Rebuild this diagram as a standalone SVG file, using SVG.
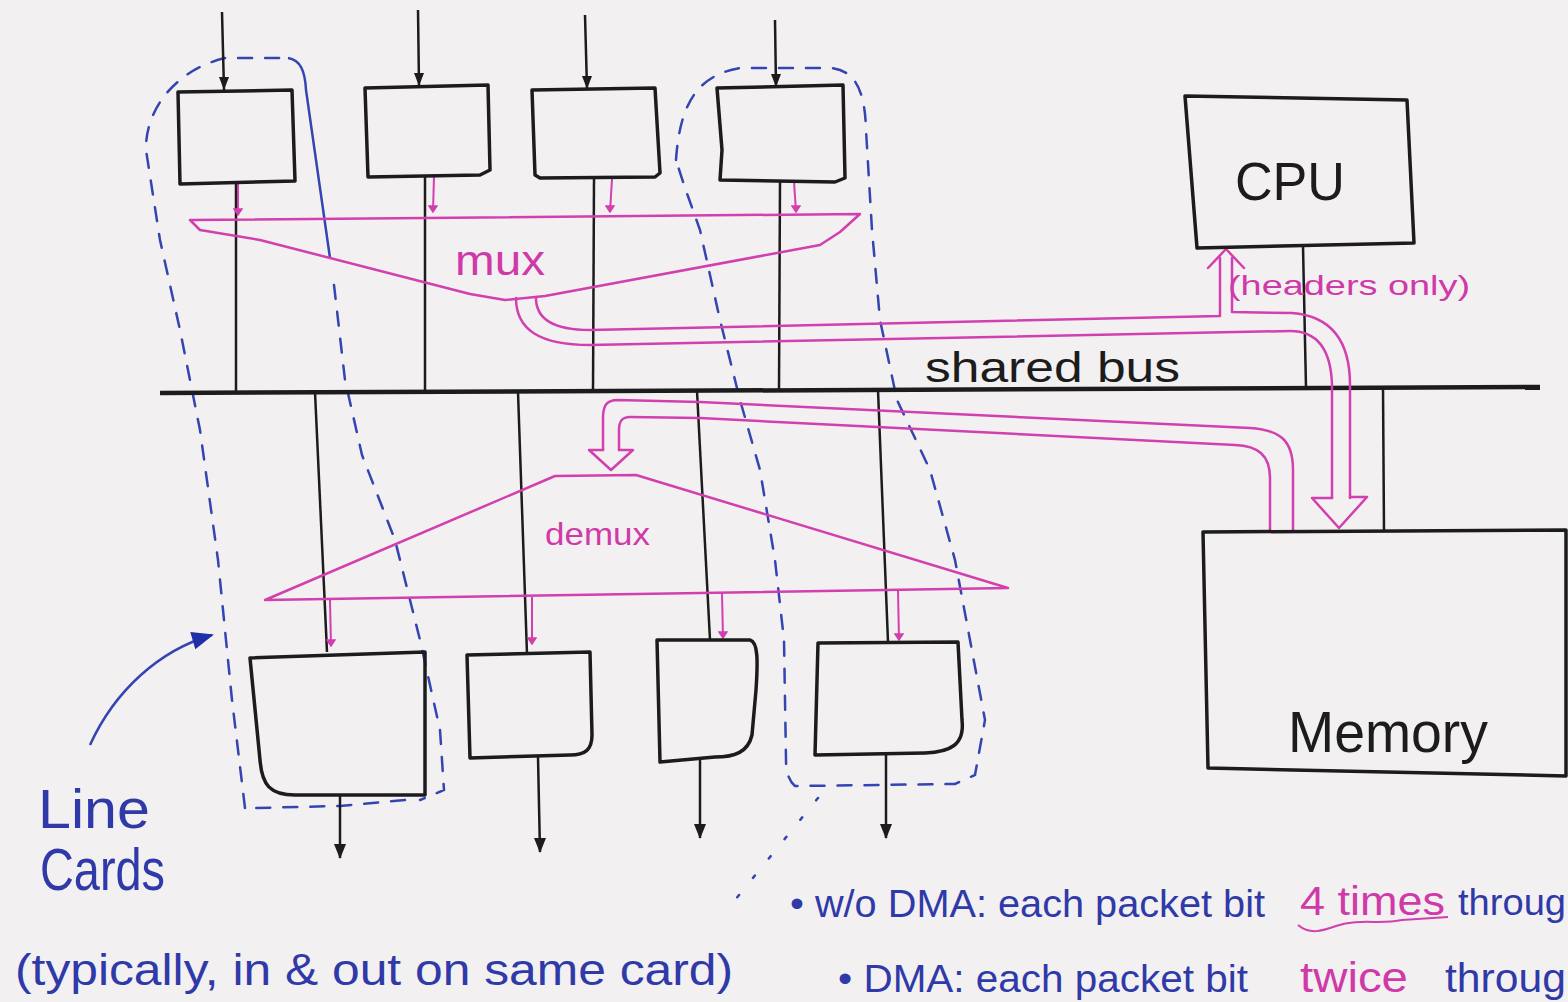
<svg xmlns="http://www.w3.org/2000/svg" width="1568" height="1002" viewBox="0 0 1568 1002">
<style>
.bg{fill:#f3f0f2}
.box{fill:none;stroke:#1c1c1c;stroke-width:3.5;stroke-linejoin:round}
.wire{fill:none;stroke:#1c1c1c;stroke-width:2.5}
.bus{fill:none;stroke:#1c1c1c;stroke-width:4.5}
.pk{fill:none;stroke:#d23fae;stroke-width:2.5;stroke-linejoin:round;stroke-linecap:round}
.pkt{fill:none;stroke:#d23fae;stroke-width:2;stroke-linejoin:round}
.dash{fill:none;stroke:#3444b0;stroke-width:2.5;stroke-dasharray:14 13;stroke-linecap:round}
.bl{fill:none;stroke:#3444b0;stroke-width:2.5}
.dot{fill:none;stroke:#3444b0;stroke-width:2.5;stroke-dasharray:3 22;stroke-linecap:round}
.t{font-family:"Liberation Sans",Arial,sans-serif}
.tk{fill:#1c1c1c}
.tp{fill:#cf3aa8}
.tb{fill:#2f3aa8}
</style>
<defs>
<marker id="ahB" markerUnits="userSpaceOnUse" markerWidth="14" markerHeight="16" refX="7" refY="15" viewBox="0 0 14 16" orient="0">
<path d="M2,2 L12,2 L7,15 Z" fill="#1c1c1c"/>
</marker>
<marker id="ahP" markerUnits="userSpaceOnUse" markerWidth="10" markerHeight="10" refX="5" refY="9" viewBox="0 0 10 10" orient="0">
<path d="M1,3 L5,9 L9,3 Z" fill="#d23fae" stroke="#d23fae" stroke-width="1.5"/>
</marker>
<marker id="ahD" markerUnits="userSpaceOnUse" markerWidth="18" markerHeight="18" refX="9" refY="16" viewBox="0 0 18 18" orient="0">
<path d="M3,2 L15,2 L9,17 Z" fill="#1c1c1c"/>
</marker>
<marker id="ahBlue" markerUnits="userSpaceOnUse" markerWidth="26" markerHeight="26" refX="22" refY="13" viewBox="0 0 26 26" orient="auto">
<path d="M2,4 L24,13 L2,22 Z" fill="#1f2fa8"/>
</marker>
</defs>
<rect class="bg" x="0" y="0" width="1568" height="1002"/>

<g id="annotations">
<path class="dash" d="M245,808 L232,700 L218,560 L200,430 L180,330 L160,240 L146,150 C145,110 175,70 225,58 L288,58"/>
<path class="bl" d="M288,58 C300,60 305,70 306,90 L330,258"/>
<path class="dash" d="M334,285 L345,380 L362,455 L395,540 L420,640 L440,730 L444,790 L420,800"/>
<path class="dash" d="M405,800 L340,806 L255,808"/>
<path class="dash" d="M676,160 C680,100 700,75 740,68 L830,68 C855,70 865,90 866,130 L872,230 L880,320 L897,400 L930,470 L955,560 L970,640 L985,720 L975,775 L955,784 L795,786 C788,780 786,770 786,760 L784,640 L775,560 L760,470 L740,400 L720,320 L700,230 L684,185 Z"/>
<path class="dot" d="M818,798 L735,900"/>
<path class="bl" d="M90,745 C115,690 160,650 212,635" marker-end="url(#ahBlue)" stroke="#1f2fa8" stroke-width="3"/>
</g>

<g id="connectors">
<line class="wire" x1="222" y1="12" x2="224" y2="90" marker-end="url(#ahB)"/>
<line class="wire" x1="418" y1="10" x2="419" y2="86" marker-end="url(#ahB)"/>
<line class="wire" x1="585" y1="15" x2="587" y2="89" marker-end="url(#ahB)"/>
<line class="wire" x1="775" y1="20" x2="776" y2="87" marker-end="url(#ahB)"/>
<line class="wire" x1="236" y1="182" x2="236" y2="391"/>
<line class="wire" x1="425" y1="176" x2="425" y2="390"/>
<line class="wire" x1="594" y1="178" x2="593" y2="390"/>
<line class="wire" x1="780" y1="181" x2="779" y2="389"/>
<line class="wire" x1="1303" y1="246" x2="1306" y2="388"/>
<line class="wire" x1="1383" y1="388" x2="1384" y2="531"/>
<line class="bus" x1="160" y1="393" x2="1540" y2="387"/>
<line class="wire" x1="315" y1="392" x2="327" y2="652"/>
<line class="wire" x1="518" y1="392" x2="527" y2="654"/>
<line class="wire" x1="697" y1="391" x2="710" y2="640"/>
<line class="wire" x1="878" y1="390" x2="888" y2="642"/>
<line class="wire" x1="340" y1="795" x2="340" y2="858" marker-end="url(#ahD)"/>
<line class="wire" x1="538" y1="757" x2="540" y2="852" marker-end="url(#ahD)"/>
<line class="wire" x1="700" y1="760" x2="700" y2="838" marker-end="url(#ahD)"/>
<line class="wire" x1="886" y1="755" x2="886" y2="838" marker-end="url(#ahD)"/>
<line class="pkt" x1="238" y1="184" x2="238" y2="215" marker-end="url(#ahP)"/>
<line class="pkt" x1="434" y1="176" x2="433" y2="212" marker-end="url(#ahP)"/>
<line class="pkt" x1="612" y1="179" x2="610" y2="212" marker-end="url(#ahP)"/>
<line class="pkt" x1="794" y1="181" x2="796" y2="212" marker-end="url(#ahP)"/>
<line class="pkt" x1="330" y1="600" x2="331" y2="646" marker-end="url(#ahP)"/>
<line class="pkt" x1="532" y1="597" x2="532" y2="644" marker-end="url(#ahP)"/>
<line class="pkt" x1="722" y1="593" x2="723" y2="638" marker-end="url(#ahP)"/>
<line class="pkt" x1="898" y1="590" x2="899" y2="640" marker-end="url(#ahP)"/>
<path class="pk" d="M516,298 C516,330 540,345 590,345 L1290,331 C1318,331 1331,350 1332,385 L1332,498"/>
<path class="pk" d="M536,298 C536,318 552,330 590,330 L1220,316 L1220,258"/>
<path class="pk" d="M1232,258 L1232,312 L1292,313 C1330,316 1350,340 1350,385 L1350,498"/>
<path class="pk" d="M1332,498 L1312,498 L1339,528 L1367,497 L1350,497"/>
<path class="pk" d="M1208,268 L1226,249 L1244,268"/>
<path class="pk" d="M1293,530 L1293,470 C1293,440 1280,430 1250,428 L700,402 L618,400 C606,400 603,406 603,418 L603,450"/>
<path class="pk" d="M1270,530 L1270,478 C1270,455 1258,446 1235,445 L700,418 L630,417 C622,417 619,421 619,430 L619,450"/>
<path class="pk" d="M603,450 L589,450 L611,470 L633,450 L619,450"/>
</g>

<g id="mux">
<path class="pk" d="M190,220 L860,214 L840,232 L820,245 L545,296 L505,300 L470,294 L260,240 L200,230 Z"/>
<text class="t tp" x="455" y="275" font-size="42" textLength="90" lengthAdjust="spacingAndGlyphs">mux</text>
</g>
<g id="demux">
<path class="pk" d="M555,476 L636,475 L1008,588 L265,600 Z"/>
<text class="t tp" x="545" y="545" font-size="32" textLength="105" lengthAdjust="spacingAndGlyphs">demux</text>
</g>

<g id="in1"><path class="box" d="M178,92 L292,90 L295,181 L180,184 Z"/></g>
<g id="in2"><path class="box" d="M365,88 L488,85 L490,170 L480,175 L368,177 Z"/></g>
<g id="in3"><path class="box" d="M532,90 L655,88 L660,173 L655,177 L540,178 L535,175 Z"/></g>
<g id="in4"><path class="box" d="M717,88 L843,85 L845,178 L835,182 L720,180 L722,150 Z"/></g>

<g id="out1"><path class="box" d="M250,658 L425,652 L425,795 L295,795 C270,795 262,785 260,760 Z"/></g>
<g id="out2"><path class="box" d="M467,655 L590,652 L592,735 C592,750 585,755 570,755 L470,758 Z"/></g>
<g id="out3"><path class="box" d="M657,640 L750,640 C758,642 758,660 756,690 L752,735 C748,752 735,757 715,757 L660,762 Z"/></g>
<g id="out4"><path class="box" d="M818,643 L958,642 L962,720 C965,745 950,752 925,753 L815,755 Z"/></g>

<g id="cpu">
<path class="box" d="M1185,96 L1407,100 L1414,243 L1197,248 Z"/>
<text class="t tk" x="1235" y="200" font-size="54" textLength="110" lengthAdjust="spacingAndGlyphs">CPU</text>
</g>
<g id="memory">
<path class="box" d="M1203,532 L1566,530 L1566,776 L1208,768 Z"/>
<text class="t tk" x="1288" y="752" font-size="58" textLength="200" lengthAdjust="spacingAndGlyphs">Memory</text>
</g>

<g id="labels">
<text class="t tk" x="925" y="382" font-size="42" textLength="255" lengthAdjust="spacingAndGlyphs">shared bus</text>
<text class="t tp" x="1228" y="295" font-size="28" textLength="242" lengthAdjust="spacingAndGlyphs">(headers only)</text>
<text class="t tb" x="38" y="828" font-size="56" textLength="112" lengthAdjust="spacingAndGlyphs">Line</text>
<text class="t tb" x="40" y="890" font-size="60" textLength="125" lengthAdjust="spacingAndGlyphs">Cards</text>
<text class="t tb" x="15" y="985" font-size="44" textLength="718" lengthAdjust="spacingAndGlyphs">(typically, in &amp; out on same card)</text>
<text class="t tb" x="790" y="917" font-size="38" textLength="475" lengthAdjust="spacingAndGlyphs">• w/o DMA: each packet bit</text>
<text class="t tp" x="1300" y="915" font-size="40" textLength="145" lengthAdjust="spacingAndGlyphs">4 times</text>
<path class="pkt" d="M1298,925 C1310,935 1322,931 1336,926 C1360,918 1380,925 1402,920 L1448,917"/>
<text class="t tb" x="1458" y="915" font-size="36" textLength="108" lengthAdjust="spacingAndGlyphs">throug</text>
<text class="t tb" x="838" y="992" font-size="38" textLength="410" lengthAdjust="spacingAndGlyphs">• DMA: each packet bit</text>
<text class="t tp" x="1300" y="992" font-size="42" textLength="108" lengthAdjust="spacingAndGlyphs">twice</text>
<text class="t tb" x="1445" y="992" font-size="40" textLength="121" lengthAdjust="spacingAndGlyphs">throug</text>
</g>
</svg>
